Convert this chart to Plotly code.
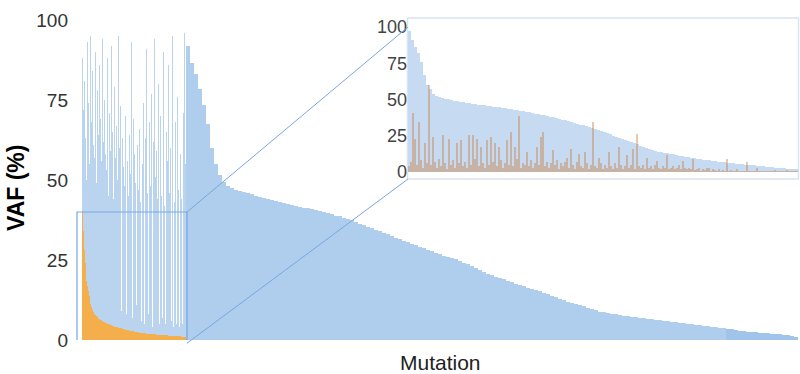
import plotly.graph_objects as go

# ---------------- data ----------------
# Left block: mutations ranked by the orange sample's VAF (blue = other sample)
left_blue = [
    88, 72, 58, 81, 63, 50, 93, 66, 74, 55, 95, 68, 52, 84, 61, 57, 90, 70, 49, 78,
    64, 86, 47, 69, 56, 94, 62, 48, 75, 58, 53, 88, 66, 45, 71, 59, 92, 51, 65, 44,
    79, 57, 14, 67, 50, 95, 60, 46, 73, 9, 63, 54, 89, 48, 70, 8, 56, 82, 45, 64,
    52, 93, 44, 7, 69, 58, 49, 85, 11, 61, 47, 66, 95, 43, 6, 55, 74, 50, 5, 63,
    91, 46, 57, 8, 68, 48, 77, 42, 4, 62, 94, 51, 6, 59, 44, 80, 5, 54, 70, 45,
    7, 90, 50, 42, 5, 65, 56, 3, 86, 46, 60, 6, 52, 95, 4, 43, 68, 53, 5, 76,
    47, 4, 92, 58, 44, 5, 71, 50, 96, 55,
]
left_orange = [
    40, 34, 28, 24, 21, 18.5, 16.8, 15.2, 13.8, 12.5,
    11.3, 10.2, 9.4, 8.9, 8.4, 8.0, 7.7, 7.4, 7.2, 6.9,
    6.7, 6.5, 6.3, 6.1, 5.9, 5.8, 5.6, 5.5, 5.4, 5.3,
    5.2, 5.1, 5.0, 4.9, 4.8, 4.7, 4.6, 4.5, 4.4, 4.3,
    4.2, 4.1, 4.0, 3.95, 3.9, 3.8, 3.7, 3.65, 3.6, 3.5,
    3.45, 3.4, 3.3, 3.25, 3.2, 3.1, 3.05, 3.0, 2.95, 2.9,
    2.85, 2.8, 2.75, 2.7, 2.65, 2.6, 2.55, 2.5, 2.45, 2.4,
    2.35, 2.3, 2.27, 2.23, 2.2, 2.15, 2.1, 2.08, 2.05, 2.03,
    2.0, 1.98, 1.95, 1.93, 1.9, 1.88, 1.85, 1.83, 1.8, 1.78,
    1.75, 1.73, 1.7, 1.68, 1.66, 1.64, 1.62, 1.6, 1.58, 1.56,
    1.54, 1.52, 1.5, 1.48, 1.46, 1.44, 1.42, 1.4, 1.38, 1.36,
    1.34, 1.32, 1.3, 1.28, 1.26, 1.24, 1.22, 1.2, 1.18, 1.16,
    1.14, 1.12, 1.1, 1.08, 1.06, 1.04, 1.02, 1.0, 1.0, 0.98,
]
# Right block: remaining mutations ranked by blue VAF (one bar per bin)
right_blue = [
    92, 86.5, 83, 78.5, 73.5, 67.5, 60, 55, 51.5, 49.5,
    48, 47.5, 47, 46.5, 46.2, 45.9, 45.5, 45.1, 44.8, 44.5,
    44.2, 43.9, 43.5, 43.2, 42.8, 42.5, 42.2, 41.9, 41.6, 41.4,
    41.2, 41.0, 40.7, 40.4, 40.0, 39.6, 39.3, 38.9, 38.6, 38.2,
    37.9, 37.4, 36.9, 36.4, 35.9, 35.4, 34.9, 34.4, 34.0, 33.5,
    33.0, 32.5, 32.0, 31.5, 31.0, 30.5, 30.1, 29.7, 29.2, 28.7,
    28.2, 27.7, 27.2, 26.8, 26.3, 25.9, 25.6, 25.2, 24.8, 24.2,
    23.6, 23.0, 22.4, 21.8, 21.2, 20.7, 20.2, 19.8, 19.4, 19.0,
    18.5, 18.1, 17.6, 17.2, 16.8, 16.4, 16.0, 15.6, 15.3, 14.8,
    14.3, 13.8, 13.3, 12.8, 12.4, 12.0, 11.7, 11.4, 11.0, 10.6,
    10.1, 9.7, 9.3, 8.9, 8.6, 8.4, 8.2, 8.0, 7.8, 7.6,
    7.4, 7.3, 7.1, 7.0, 6.8, 6.7, 6.5, 6.3, 6.2, 6.0,
    5.9, 5.7, 5.6, 5.4, 5.3, 5.1, 5.0, 4.8, 4.7, 4.5,
    4.4, 4.2, 4.0, 3.9, 3.7, 3.5, 3.3, 3.0, 2.8, 2.7,
    2.6, 2.5, 2.4, 2.3, 2.2, 2.1, 2.0, 1.9, 1.8, 1.7,
    1.5, 1.2, 0.8,
]
# Inset: zoomed view of the boxed block
inset_blue = [
    97, 91, 86, 82, 76, 67, 60, 57, 54, 52.5,
    51.5, 51, 50.5, 50, 49.6, 49.2, 48.8, 48.4, 48.1, 47.7,
    47.3, 47.0, 46.8, 46.5, 46.3, 46.0, 45.7, 45.4, 45.1, 44.8,
    44.5, 44.2, 43.9, 43.6, 43.3, 43.0, 42.7, 42.3, 41.9, 41.5,
    41.1, 40.7, 40.3, 39.8, 39.4, 39.0, 38.6, 38.2, 37.7, 37.2,
    36.7, 36.2, 35.6, 35.0, 34.4, 33.8, 33.2, 32.7, 32.1, 31.5,
    30.8, 30.1, 29.4, 28.7, 28.0, 27.3, 26.6, 25.9, 25.1, 24.4,
    23.6, 22.8, 22.0, 21.2, 20.5, 19.8, 19.0, 18.1, 17.3, 16.5,
    15.8, 15.2, 14.6, 14.1, 13.7, 13.3, 12.9, 12.5, 12.1, 11.7,
    11.3, 10.9, 10.5, 10.1, 9.8, 9.5, 9.2, 8.9, 8.6, 8.3,
    8.0, 7.7, 7.4, 7.2, 6.9, 6.7, 6.5, 6.3, 6.1, 5.8,
    5.6, 5.3, 5.1, 4.9, 4.7, 4.5, 4.3, 4.1, 3.9, 3.7,
    3.5, 3.3, 3.1, 2.9, 2.7, 2.5, 2.3, 2.2, 2.0, 1.8,
]
inset_orange = [
    4, 7, 40.6, 23, 5, 34.5, 8, 3, 20, 6,
    60, 5, 24, 7, 3, 9, 4, 25.5, 6, 2,
    23, 5, 8, 3, 20, 6, 22, 4, 7, 3,
    25.5, 5, 25.5, 9, 23, 4, 17, 6, 3, 22,
    5, 24, 7, 20, 4, 17, 8, 3, 6, 22,
    5, 27.7, 4, 17, 9, 38.6, 3, 6, 5, 14,
    4, 8, 3, 6, 17, 5, 24, 27.7, 4, 7,
    3, 6, 15, 5, 8, 2, 6, 4, 7, 10,
    3, 16, 5, 2, 7, 12.5, 4, 3, 14, 6,
    2, 5, 34.5, 4, 3, 10, 6, 2, 5, 3,
    14, 4, 2, 6, 3, 17, 5, 2, 4, 11.6,
    3, 5, 16, 2, 26, 4, 3, 5, 2, 10,
    3, 4, 2, 5, 7.6, 3, 2, 4, 3, 12,
    2, 3, 4, 2, 3, 5, 2, 7.6, 3, 2,
    3, 2, 9, 1.5, 2, 3, 1, 2, 1.5, 2.5,
    2.5, 1, 2, 1.5, 1, 2, 1, 1.5, 1, 9,
    1, 1.5, 0.8, 1, 2, 0.8, 1, 0.5, 1, 7,
    0.8, 1, 0.5, 1, 2.5, 0.8, 0.5, 1, 0.6, 0.5,
    1, 0.5, 0.8, 1.5, 0.5, 0.8, 1, 0.5, 0.6, 1.2,
    0.5, 0.8, 1, 0.5, 0.6,
]
y_ticks = [0, 25, 50, 75, 100]
y_tick_labels = ["0", "25", "50", "75", "100"]
ZOOM_VAF_MAX = 40          # upper VAF of the boxed (zoomed) block
DARK_START = 135           # right-block bins drawn in a slightly deeper blue

# ---------------- styling / geometry ----------------
W, H = 800, 374
M_L, M_R, M_T, M_B = 82, 2, 18, 34
PW, PH = W - M_L - M_R, H - M_T - M_B
FONT = "Liberation Sans, Arial, Helvetica, sans-serif"

BLUE = "#AFCDEC"
LEFT_BLUE = "rgba(160,196,234,0.72)"
BLUE_DARK = "#A0C4EA"
ORANGE = "#F4AE4C"
INSET_BLUE = "#C6DBF1"
INSET_ORANGE = "rgba(200,125,60,0.42)"
LINE_BLUE = "#79A7DE"


def pxx(px):
    return (px - M_L) / PW


def pxy(py):
    return (H - M_B - py) / PH


Y_MAX = 100 * PH / 320
SPLIT = pxx(186)
INSET_X0 = pxx(408)
INSET_Y0 = pxy(179)
INSET_RANGE = [-4.83, 106.2]


def main_y_paper(v):
    return v / Y_MAX


def inset_y_paper(v):
    r0, r1 = INSET_RANGE
    return INSET_Y0 + (v - r0) / (r1 - r0) * (1 - INSET_Y0)


fig = go.Figure()

fig.add_trace(go.Bar(x=list(range(len(left_blue))), y=left_blue, width=1,
                     marker=dict(color=LEFT_BLUE, line=dict(width=0)),
                     xaxis="x", yaxis="y", hoverinfo="skip"))
fig.add_trace(go.Bar(x=list(range(len(left_orange))), y=left_orange, width=1,
                     marker=dict(color=ORANGE, line=dict(width=0)),
                     xaxis="x", yaxis="y", hoverinfo="skip"))
right_colors = [BLUE if i < DARK_START else BLUE_DARK for i in range(len(right_blue))]
fig.add_trace(go.Bar(x=list(range(len(right_blue))), y=right_blue, width=1,
                     marker=dict(color=right_colors, line=dict(width=0)),
                     xaxis="x2", yaxis="y", hoverinfo="skip"))
fig.add_trace(go.Bar(x=list(range(len(inset_blue))), y=inset_blue, width=1,
                     marker=dict(color=INSET_BLUE, line=dict(width=0)),
                     xaxis="x3", yaxis="y2", hoverinfo="skip"))
fig.add_trace(go.Bar(x=list(range(len(inset_orange))), y=inset_orange, width=0.75,
                     marker=dict(color=INSET_ORANGE, line=dict(width=0)),
                     xaxis="x4", yaxis="y2", hoverinfo="skip"))

hidden = dict(showgrid=False, zeroline=False, showline=False, showticklabels=False, ticks="")

fig.update_layout(
    width=W, height=H,
    margin=dict(l=M_L, r=M_R, t=M_T, b=M_B),
    paper_bgcolor="white", plot_bgcolor="rgba(0,0,0,0)",
    showlegend=False, barmode="overlay", bargap=0,
    font=dict(family=FONT, color="#333"),
    xaxis=dict(domain=[0, SPLIT], range=[-0.5, len(left_blue) - 0.5], anchor="y", **hidden),
    xaxis2=dict(domain=[SPLIT, 1], range=[-0.5, len(right_blue) - 0.5], anchor="y", **hidden),
    yaxis=dict(domain=[0, 1], range=[0, Y_MAX], tickvals=y_ticks, ticktext=y_tick_labels,
               showgrid=False, zeroline=False, showline=False, ticks="",
               ticklabelstandoff=13, tickfont=dict(size=19, color="#333", family=FONT)),
    xaxis3=dict(domain=[INSET_X0, 1], range=[-0.5, len(inset_blue) - 0.5], anchor="y2", **hidden),
    xaxis4=dict(overlaying="x3", range=[-0.5, len(inset_orange) - 0.5], anchor="y2", **hidden),
    yaxis2=dict(domain=[INSET_Y0, 1], range=INSET_RANGE, anchor="x3", tickvals=y_ticks,
                ticktext=y_tick_labels, showgrid=False, zeroline=False, showline=False,
                ticks="", tickfont=dict(size=18, color="#444", family=FONT)),
)

# zoom box, inset frame and connector lines
rect_x0, rect_x1 = pxx(77), SPLIT + 1 / PW
fig.add_shape(type="rect", xref="paper", yref="paper", x0=pxx(407.5), x1=pxx(798.5),
              y0=INSET_Y0, y1=1, line=dict(color="#D8E4F1", width=1.5),
              fillcolor="white", layer="below")
fig.add_shape(type="rect", xref="paper", yref="y", x0=rect_x0, x1=rect_x1,
              y0=-1, y1=ZOOM_VAF_MAX, line=dict(color=LINE_BLUE, width=1.2))
fig.add_shape(type="line", xref="paper", yref="paper", x0=rect_x1, y0=main_y_paper(ZOOM_VAF_MAX),
              x1=INSET_X0, y1=inset_y_paper(100), line=dict(color=LINE_BLUE, width=1))
fig.add_shape(type="line", xref="paper", yref="paper", x0=rect_x1, y0=main_y_paper(-1),
              x1=INSET_X0, y1=INSET_Y0, line=dict(color=LINE_BLUE, width=1))

fig.add_annotation(text="Mutation", xref="paper", yref="paper", x=0.5, y=pxy(362),
                   xanchor="center", yanchor="middle", showarrow=False,
                   font=dict(size=21, color="#222", family=FONT))
fig.add_annotation(text="<b>VAF (%)</b>", xref="paper", yref="paper", x=pxx(16), y=pxy(188),
                   xanchor="center", yanchor="middle", textangle=-90, showarrow=False,
                   font=dict(size=23, color="black", family=FONT))
fig.add_annotation(text="<b>B</b>", xref="paper", yref="paper", x=pxx(3), y=pxy(365),
                   xanchor="left", yanchor="top", showarrow=False,
                   font=dict(size=30, color="black", family=FONT))

fig.write_html("out.html")
